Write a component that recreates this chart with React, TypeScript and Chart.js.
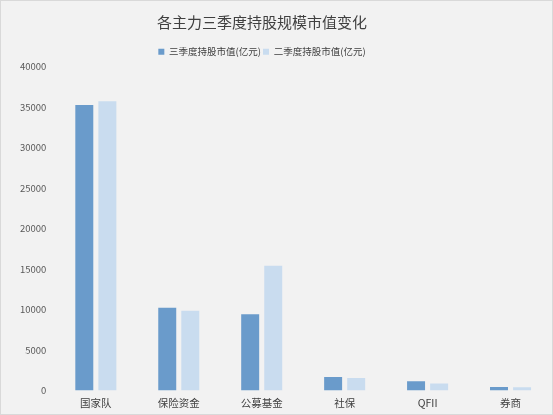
import React, { useEffect, useRef } from "react";
import { Chart, registerables } from "chart.js";

Chart.register(...registerables);

const categories = ["国家队", "保险资金", "公募基金", "社保", "QFII", "券商"];
const q3Values = [35260, 10220, 9390, 1640, 1140, 420];
const q2Values = [35700, 9850, 15400, 1520, 860, 390];
const seriesNames = ["三季度持股市值(亿元)", "二季度持股市值(亿元)"];

const FONT = "'Noto Sans CJK SC', 'Noto Sans', sans-serif";

// the original centres its title and legend a little left of the canvas middle
const shiftHeader = {
  id: "shiftHeader",
  afterLayout(chart: any) {
    for (const box of [chart.titleBlock, chart.legend]) {
      if (box) {
        box.left -= 20;
        box.right -= 20;
      }
    }
  },
};

export default function App() {
  const chartRef = useRef<HTMLCanvasElement | null>(null);

  useEffect(() => {
    document.body.style.margin = "0";
    if (!chartRef.current) return;
    const chart = new Chart(chartRef.current, {
      type: "bar",
      data: {
        labels: categories,
        datasets: [
          {
            label: seriesNames[0],
            data: q3Values,
            backgroundColor: "#6A9BCB",
            barPercentage: 0.78,
            categoryPercentage: 0.556,
          },
          {
            label: seriesNames[1],
            data: q2Values,
            backgroundColor: "#C9DCEF",
            barPercentage: 0.78,
            categoryPercentage: 0.556,
          },
        ],
      },
      options: {
        animation: false,
        responsive: true,
        maintainAspectRatio: false,
        layout: { padding: { left: 11, right: 0, top: 5, bottom: -1 } },
        plugins: {
          title: {
            display: true,
            text: "各主力三季度持股规模市值变化",
            color: "#404040",
            font: { family: FONT, size: 15, weight: "normal" },
            padding: { top: 7, bottom: 14 },
          },
          legend: {
            display: true,
            labels: {
              color: "#404040",
              boxWidth: 6,
              boxHeight: 6,
              padding: 2,
              font: { family: FONT, size: 9.5 },
            },
          },
          tooltip: { enabled: false },
        },
        scales: {
          x: {
            grid: { display: false, drawTicks: false },
            border: { display: false },
            ticks: {
              color: "#404040",
              font: { family: FONT, size: 10.5 },
              padding: 6,
            },
          },
          y: {
            min: 0,
            max: 40000,
            grid: { display: false, drawTicks: false },
            border: { display: false },
            ticks: {
              stepSize: 5000,
              color: "#595959",
              font: { family: FONT, size: 9.5 },
              padding: 8,
              callback: (v) => String(v),
            },
          },
        },
      },
      plugins: [shiftHeader],
    });
    return () => chart.destroy();
  }, []);

  return (
    <div
      style={{
        position: "fixed",
        left: 0,
        top: 0,
        width: 553,
        height: 415,
        boxSizing: "border-box",
        border: "1px solid #D9D9D9",
        background: "#F2F2F2",
      }}
    >
      <canvas ref={chartRef} />
    </div>
  );
}
